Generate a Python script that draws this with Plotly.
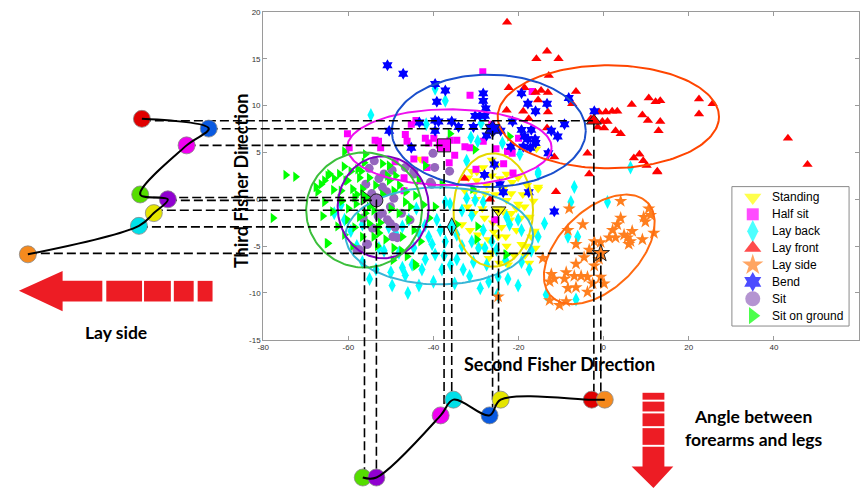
import numpy as np
import plotly.graph_objects as go

W, H = 860, 495
# plot box of the main axes in pixels (left, right, top, bottom)
L, R, T, B = 259, 859, 8, 342
X_RANGE = [-80, 60]
Y_RANGE = [-15, 20]

x_ticks = [-80, -60, -40, -20, 0, 20, 40, 60]
x_tick_labels = ["-80", "-60", "-40", "-20", "0", "20", "40", "60"]
y_ticks = [-15, -10, -5, 0, 5, 10, 15, 20]
y_tick_labels = ["-15", "-10", "-5", "0", "5", "10", "15", "20"]

classes = ["Standing", "Half sit", "Lay back", "Lay front", "Lay side", "Bend", "Sit", "Sit on ground"]
symbols = ["triangle-down", "square", "diamond-tall", "triangle-up", "star", "hexagram", "circle", "triangle-right"]
point_sizes = [9, 7, 10, 9, 10, 9, 9, 9]
point_colors = ["#FFFF00", "#FF00FF", "#00FFFF", "#FF0000", "#FF7F1F", "#0000FF", "#9467BD", "#00FF00"]
ellipse_colors = ["#E5D800", "#EE10EE", "#38B6D6", "#FF4500", "#FF6A10", "#1A4FCC", "#8000C0", "#3CBF3C"]
node_colors = ["#E5E500", "#F000F0", "#00E0E8", "#E00000", "#F58A1E", "#0A5AE0", "#9000D0", "#55DD00"]

standing_x = [-31.8, -29.8, -26.3, -24.4, -20.1, -15.4, -32.6, -30.2, -27.9, -21.7, -20.1, -18.6, -17.4, -16.2,
              -17.0, -18.2, -22.8, -21.7, -23.6, -24.8, -22.8, -26.3, -33.3, -31.4, -27.1, -20.5, -19.3, -26.3,
              -25.2, -28.3, -29.8, -22.8, -15.8, -15.4, -43.1, -28.5, -26.0, -24.0, -22.0, -19.5, -30.5, -25.5,
              -23.5, -18.0, -27.0, -21.0, -17.5, -29.0, -16.5, -24.5, -30.0, -28.0, -25.0, -23.0, -20.5, -19.0,
              -32.0, -29.5, -27.5, -25.8, -18.5, -22.5, -16.0, -31.0, -21.5]
standing_y = [2.3, 2.0, 2.5, 2.2, 2.3, 1.1, 0.9, 0.8, 0.6, 0.6, -0.5, -0.8, -1.9, -3.4,
              -4.0, -5.0, -0.1, -1.5, -1.3, -4.0, -5.0, -5.7, -2.7, -3.3, -4.3, -3.3, -4.8, 4.2,
              3.6, 3.4, 2.9, 2.7, 5.4, 1.3, 4.3, -1.0, -2.5, -3.0, -2.2, -2.0, -1.5, 0.5,
              1.2, 1.5, -6.3, -6.0, -6.8, -5.0, -0.2, -6.8, 0.0, -2.0, -1.0, -4.0, -1.0, 0.5,
              -0.8, -3.8, 1.5, -3.5, -6.0, -7.0, -5.2, 3.0, 1.8]

half_sit_x = [-60.2, -59.8, -53.7, -52.9, -52.4, -46.6, -46.2, -44.1, -45.2, -41.9, -41.1, -39.9, -38.6, -44.6,
              -42.0, -46.9, -41.5, -28.4, -31.4, -16.8, -36.1, -34.5, -32.6, -31.4, -28.3, -25.3, -22.6, -21.5,
              -20.0, -36.3, -21.3, -26.3, -46.9, -25.6, -49.0, -35.0, -30.0, -23.5]
half_sit_y = [7.0, 5.5, 6.3, 6.2, 5.5, 6.9, 6.2, 8.4, 8.0, 6.5, 6.0, 6.5, 5.8, 4.3,
              4.2, 2.3, 3.4, 13.6, 11.1, 11.5, 6.3, 6.3, 5.6, 5.5, 6.2, 5.4, 5.1, 4.9,
              6.5, 3.9, 2.8, 8.0, 0.9, -2.2, 4.0, 4.7, 3.2, 3.8]

lay_back_x = [-63.3, -60.9, -59.4, -56.7, -56.7, -52.8, -51.6, -49.7, -48.1, -47.3, -46.6, -47.3, -45.8, -44.6,
              -43.4, -42.7, -41.1, -40.3, -39.6, -39.2, -38.4, -41.9, -48.9, -61.7, -37.2, -36.1, -32.2, -30.2,
              -28.3, -33.3, -31.0, -28.3, -34.5, -37.2, -33.3, -29.4, -27.9, -34.5, -30.6, -22.8, -20.1, -19.3,
              -22.1, -26.3, -25.2, -19.3, -24.8, -20.1, -15.4, -13.9, -8.4, -6.1, -7.7, -6.9, 0.9, -13.5,
              -6.5, -15.4, -38.0, -54.7, -39.6, -41.7, -37.2, -28.8, -31.2, -29.6, -23.8, -19.7, -15.4, -32.2,
              6.3, -44.0, -42.0, -36.0, -31.5, -27.5, -23.0, -17.5, -53.5, -50.5, -46.0, -45.0, -40.0, -35.0,
              -37.5, -31.0, -27.0, -25.0, -58.0, -50.0, -43.5, -33.0, -22.5, -17.0, -29.0, -55.0]
lay_back_y = [-1.5, -2.2, -3.4, -2.7, -6.7, -5.2, -5.5, -9.2, -5.7, -7.3, -8.1, -2.9, -2.2, -5.2,
              -9.2, -7.5, -4.0, -4.8, -5.9, -2.2, -3.3, -6.4, -3.6, -0.6, -0.3, -0.5, 0.1, -0.1,
              -0.3, -1.2, -1.7, -3.3, -3.8, -4.5, -5.0, -5.2, -5.2, -6.4, -6.7, -1.9, -2.2, -3.3,
              -2.7, -4.5, -5.4, -6.7, -8.3, -9.2, -4.0, -2.6, -4.0, -4.0, -0.3, 1.3, -0.3, -10.2,
              -10.7, 2.7, -7.5, 9.0, 11.8, 8.0, 10.5, 8.1, 6.6, 6.2, 6.0, 4.8, 2.9, 4.1,
              3.4, -1.0, -2.8, -7.0, -8.2, -7.0, -6.5, -7.5, -7.5, -3.0, -10.0, -7.0, -8.8, -9.0,
              -6.0, -4.5, -8.8, -10.2, -5.0, -7.8, -3.5, -7.5, -8.5, -5.5, -9.5, -8.5]

lay_front_x = [-22.7, -13.3, -15.8, -10.6, -12.9, -22.3, -18.6, -16.0, -14.7, -13.1, -6.5, -15.4, -7.4, -22.8,
               -18.9, -13.1, -17.6, -13.3, -3.0, -1.1, 0.5, 2.0, 3.2, -0.3, 0.9, -1.4, 0.1, 2.8,
               -3.8, -11.6, -3.4, -32.7, -11.2, 12.6, -26.7, 6.6, 10.6, 12.2, 13.3, 22.4, 25.6, 22.4,
               9.1, 10.4, 13.3, 12.9, 4.0, 7.1, 8.4, 9.3, 10.1, 12.6, 43.3, 47.9]
lay_front_y = [18.9, 15.8, 15.0, 15.0, 13.2, 11.9, 11.9, 11.4, 11.6, 11.4, 11.5, 10.6, 10.2, 9.5,
               9.4, 9.3, 8.6, 7.6, 8.6, 9.3, 9.3, 9.4, 9.4, 8.3, 8.3, 7.7, 7.6, 7.3,
               4.9, 4.5, 2.7, 2.2, 0.8, 2.9, 0.0, 10.1, 10.8, 10.4, 10.5, 10.7, 10.2, 9.1,
               9.0, 8.4, 8.3, 7.3, 7.0, 4.4, 4.8, 4.1, 3.6, 3.0, 6.5, 3.7]

lay_side_x = [4.0, 9.4, 10.6, 11.0, 9.8, 11.8, 9.1, 4.0, 3.2, 2.1, 1.3, 2.8, 4.8, 5.6,
              6.7, 5.9, 6.3, -8.1, -4.9, -8.4, -6.5, -2.2, -0.7, -3.4, -4.6, -2.2, -6.5, -8.8,
              -6.9, -5.3, -3.8, -0.7, 0.1, -12.3, -11.6, -12.7, -9.2, -8.4, -6.5, -3.8, -2.6, -14.3,
              -12.7, -10.4, -8.8, -24.8, -1.1]
lay_side_y = [-0.2, -1.9, -1.0, -1.7, -2.4, -3.6, -4.3, -2.0, -2.7, -3.3, -4.1, -4.1, -3.8, -4.1,
              -3.4, -4.8, -4.5, -1.0, -2.7, -3.3, -4.8, -4.5, -4.6, -5.4, -6.2, -7.1, -6.9, -7.8,
              -8.2, -8.2, -8.3, -8.3, -9.0, -8.0, -8.5, -8.8, -8.5, -9.5, -9.4, -9.9, -9.0, -6.3,
              -10.8, -11.3, -10.9, -10.4, -6.4]

bend_x = [-50.8, -47.1, -39.6, -39.2, -39.6, -38.8, -43.3, -50.4, -39.6, -45.2, -37.2, -28.3, -28.3, -27.7,
          -30.2, -29.1, -27.9, -19.3, -17.8, -16.0, -13.3, -8.2, -2.2, -35.7, -34.1, -30.6, -26.3, -25.6,
          -21.4, -19.3, -17.0, -12.3, -9.2, -27.5, -24.2, -18.6, -17.8, -16.1, -10.8, -21.8, -18.9, -17.2,
          -16.0, -13.0, -25.7, -28.0, -23.6, -17.6, -11.6, -24.4]
bend_y = [14.3, 13.4, 12.3, 10.4, 8.4, 8.3, 8.2, 7.3, 7.3, 5.5, 11.6, 11.3, 10.5, 9.7,
          8.9, 8.9, 8.9, 11.3, 10.2, 9.4, 10.2, 10.8, 9.4, 8.3, 7.7, 7.7, 7.7, 7.4,
          8.3, 7.4, 7.4, 7.3, 8.0, 6.8, 7.3, 6.7, 6.4, 6.4, 6.7, 5.6, 5.6, 5.5,
          6.0, 4.9, 3.7, 2.6, 0.75, 0.75, -1.3, 1.6]

sit_x = [-55.9, -52.0, -49.3, -50.1, -52.0, -50.8, -50.1, -48.5, -55.5, -57.4, -54.3, -44.6, -40.4, -53.9,
         -55.1, -49.7, -51.6, -46.6, -44.6, -39.7, -40.7, -52.8, -36.2, -49.5, -55.7, -58.0, -45.5, -40.1,
         -53.0, -51.0, -47.5, -56.5, -49.0, -54.5]
sit_y = [1.6, 1.3, 0.1, -0.8, -1.5, -2.2, -2.6, -4.1, -4.8, -5.4, -3.1, 2.7, 1.6, 4.1,
         3.3, 3.1, 2.7, 3.4, 3.0, 3.4, 1.8, 2.2, 3.0, -4.0, -4.8, -5.4, -2.2, 4.9,
         -1.8, 0.8, -1.5, -2.0, -3.0, 0.6]

sit_ground_x = [-74.7, -72.4, -60.9, -56.0, -64.4, -63.3, -62.1, -59.4, -60.2, -57.4, -50.4, -48.9, -50.8, -41.9,
                -56.3, -65.6, -67.6, -66.4, -64.8, -67.2, -65.6, -77.7, -64.8, -63.7, -61.7, -60.6, -59.0, -58.2,
                -60.2, -57.4, -55.1, -56.7, -55.1, -53.6, -50.4, -49.3, -48.1, -45.8, -47.3, -44.6, -45.4, -44.2,
                -46.6, -42.3, -39.6, -43.4, -52.8, -51.2, -53.2, -49.3, -46.2, -44.2, -59.0, -60.9, -62.5, -56.7,
                -55.1, -44.3, -29.6, -30.8, -23.0, -65.0, -29.8, -22.8, -34.5, -36.1, -30.2, -22.1, -38.0, -58.5,
                -54.0, -52.0, -61.5, -57.8, -53.0, -62.0, -60.0, -58.0, -56.0, -54.5, -52.5, -50.0, -48.0, -46.5,
                -58.5, -54.0, -61.0, -63.5, -57.0, -52.0, -47.5, -43.0, -41.0, -66.0, -49.5]
sit_ground_y = [2.6, 2.4, 5.1, 4.8, 2.7, 2.2, 2.7, 3.0, 2.0, 2.3, 3.6, 2.5, 2.5, 3.6,
                3.9, 2.0, 1.3, 1.6, 2.5, 0.8, -0.3, -2.0, -4.7, -1.3, 0.9, 2.0, 1.1, -0.5,
                -2.2, -1.9, -2.6, 1.1, 2.3, 1.5, 2.0, 0.9, -1.5, -2.2, -4.0, -3.3, -0.8, 0.4,
                -0.3, -0.6, -0.8, 2.0, -3.6, -4.3, -5.0, -5.2, -6.1, -7.1, -5.0, -3.8, -2.9, -4.0,
                -0.8, -6.9, -2.9, 1.1, -5.9, -4.7, -4.3, -5.9, -2.7, 7.0, 5.3, 6.7, 1.6, 0.2,
                -1.2, 0.5, -0.2, 3.2, -3.0, 0.0, -1.0, 0.5, -1.5, -0.5, -2.5, -1.0, 1.5, 0.8,
                -3.0, -4.0, 3.5, 1.0, 3.0, 3.8, -5.5, -4.5, -2.0, -1.8, -6.5]

series_x = [standing_x, half_sit_x, lay_back_x, lay_front_x, lay_side_x, bend_x, sit_x, sit_ground_x]
series_y = [standing_y, half_sit_y, lay_back_y, lay_front_y, lay_side_y, bend_y, sit_y, sit_ground_y]

# class means (where the dashed guides meet)
center_x = [-24.7, -37.5, -35.7, -2.3, -0.67, -26.1, -53.4, -56.2]
center_y = [-1.17, 5.75, -2.95, 8.37, -5.78, 7.53, -0.12, 0.19]

# ellipses: centre plus two conjugate semi-diameters (u, v)
ell_cx = [-25.95, -36.25, -38.6, 1.1, -1.03, -27.0, -51.8, -56.3]
ell_cy = [-1.15, 5.55, -3.9, 8.8, -5.35, 7.3, -0.85, -1.15]
ell_ux = [9.35, 24.0, 22.05, 26.0, 11.22, 22.8, 10.7, 13.6]
ell_uy = [0.0, 0.0, 0.0, 0.0, 5.04, 0.0, 0.0, 0.0]
ell_vx = [0.0, 0.0, 0.0, 0.0, -6.6, 0.0, 0.0, 0.0]
ell_vy = [6.05, 4.05, 5.19, 5.5, 2.96, 6.0, 5.45, 6.15]

# side diagram: ordering along the third Fisher direction
left_order = ["Lay front", "Bend", "Half sit", "Sit on ground", "Sit", "Standing", "Lay back", "Lay side"]
left_x = [-108.5, -92.8, -98.0, -108.9, -102.4, -105.7, -109.2, -135.3]
left_y = [8.58, 7.54, 5.75, 0.51, -0.01, -1.48, -2.84, -5.88]

# bottom diagram: ordering along the second Fisher direction
bottom_order = ["Sit on ground", "Sit", "Half sit", "Lay back", "Bend", "Standing", "Lay front", "Lay side"]
bottom_x = [-56.6, -53.4, -38.3, -35.3, -26.8, -24.2, -2.8, 0.26]
bottom_y = [-29.7, -29.7, -23.07, -21.39, -23.07, -21.39, -21.39, -21.39]

# ---------------------------------------------------------------------------
sx = (X_RANGE[1] - X_RANGE[0]) / (R - L)
sy = (Y_RANGE[1] - Y_RANGE[0]) / (B - T)
X2_RANGE = [X_RANGE[0] - L * sx, X_RANGE[1] + (W - R) * sx]
Y2_RANGE = [Y_RANGE[0] - (H - B) * sy, Y_RANGE[1] + T * sy]


def px(x):
    return x / W


def py(y):
    return 1 - y / H


def ox(p):  # pixel -> overlay x
    return X2_RANGE[0] + p * sx


def oy(p):  # pixel -> overlay y
    return Y2_RANGE[1] - p * sy


fig = go.Figure()

# scatter clouds
for i, name in enumerate(classes):
    fig.add_trace(go.Scatter(
        x=series_x[i], y=series_y[i], mode="markers", name=name, showlegend=False,
        marker=dict(symbol=symbols[i], size=point_sizes[i], color=point_colors[i],
                    line=dict(width=0)),
        xaxis="x", yaxis="y", hoverinfo="skip"))

# ellipses
t = np.linspace(0, 2 * np.pi, 181)
for i, name in enumerate(classes):
    ex = ell_cx[i] + ell_ux[i] * np.cos(t) + ell_vx[i] * np.sin(t)
    ey = ell_cy[i] + ell_uy[i] * np.cos(t) + ell_vy[i] * np.sin(t)
    fig.add_trace(go.Scatter(x=ex, y=ey, mode="lines", showlegend=False,
                             line=dict(color=ellipse_colors[i], width=2),
                             xaxis="x", yaxis="y", hoverinfo="skip"))

# class means
fig.add_trace(go.Scatter(
    x=center_x, y=center_y, mode="markers", showlegend=False,
    marker=dict(symbol=symbols, size=13, color=point_colors, line=dict(color="#222", width=1)),
    xaxis="x", yaxis="y", hoverinfo="skip"))

# dashed guides (overlay axes share the main data scale)
gx, gy = [], []
for name in classes:
    i = classes.index(name)
    li = left_order.index(name)
    bi = bottom_order.index(name)
    gx += [left_x[li], center_x[i], center_x[i], None]
    gy += [center_y[i], center_y[i], bottom_y[bi], None]
fig.add_trace(go.Scatter(x=gx, y=gy, mode="lines", showlegend=False,
                         line=dict(color="black", width=1.6, dash="9px,4px"),
                         xaxis="x2", yaxis="y2", hoverinfo="skip"))

# diagram nodes
left_cols = [node_colors[classes.index(n)] for n in left_order]
bottom_cols = [node_colors[classes.index(n)] for n in bottom_order]
fig.add_trace(go.Scatter(x=left_x, y=left_y, mode="markers", showlegend=False,
                         marker=dict(size=17, color=left_cols, line=dict(color="#888", width=0.8)),
                         xaxis="x2", yaxis="y2", hoverinfo="skip"))
fig.add_trace(go.Scatter(x=bottom_x, y=bottom_y, mode="markers", showlegend=False,
                         marker=dict(size=17, color=bottom_cols, line=dict(color="#888", width=0.8)),
                         xaxis="x2", yaxis="y2", hoverinfo="skip"))
# connecting curves
fig.add_trace(go.Scatter(x=left_x, y=left_y, mode="lines", showlegend=False,
                         line=dict(color="black", width=2, shape="spline", smoothing=1.0),
                         xaxis="x2", yaxis="y2", hoverinfo="skip"))
fig.add_trace(go.Scatter(x=bottom_x, y=bottom_y, mode="lines", showlegend=False,
                         line=dict(color="black", width=2, shape="spline", smoothing=1.0),
                         xaxis="x2", yaxis="y2", hoverinfo="skip"))

# legend (drawn on the overlay axes)
LEG_L, LEG_R, LEG_T, LEG_B = 731, 849, 186, 328
leg_sym_x = 752
leg_text_x = 769
leg_rows = [197, 214.2, 231.4, 248.6, 265.8, 283, 300.2, 317.4]
fig.add_trace(go.Scatter(
    x=[ox(leg_sym_x)] * len(classes), y=[oy(r) for r in leg_rows], mode="markers", showlegend=False,
    marker=dict(symbol=symbols, size=[15, 12, 16, 15, 16, 15, 15, 15], color=point_colors, line=dict(width=0)),
    xaxis="x2", yaxis="y2", hoverinfo="skip"))

# arrows
RED = "#ED1C24"


def poly(pts):
    return "M " + " L ".join(f"{px(a):.5f},{py(b):.5f}" for a, b in pts) + " Z"


shapes = [dict(type="rect", xref="paper", yref="paper", x0=px(LEG_L), x1=px(LEG_R),
               y0=py(LEG_B), y1=py(LEG_T), fillcolor="white", line=dict(color="#8a8a8a", width=1),
               layer="below")]
left_head = [(13, 292), (57, 272), (57, 282), (97, 282), (97, 303), (57, 303), (57, 313)]
shapes.append(dict(type="path", xref="paper", yref="paper", path=poly(left_head),
                   fillcolor=RED, line=dict(width=0)))
for x0, x1 in [(101, 137), (139, 166), (169, 189), (193, 208)]:
    shapes.append(dict(type="rect", xref="paper", yref="paper", x0=px(x0), x1=px(x1),
                       y0=py(303), y1=py(282), fillcolor=RED, line=dict(width=0)))
for y0, y1 in [(396, 403), (405, 415), (417, 430), (432, 449)]:
    shapes.append(dict(type="rect", xref="paper", yref="paper", x0=px(641), x1=px(663),
                       y0=py(y1), y1=py(y0), fillcolor=RED, line=dict(width=0)))
down_head = [(641, 451), (663, 451), (663, 471), (672, 471), (652, 493), (630, 471), (641, 471)]
shapes.append(dict(type="path", xref="paper", yref="paper", path=poly(down_head),
                   fillcolor=RED, line=dict(width=0)))

AXT_FONT = dict(family="Lato, Open Sans, sans-serif", size=18, color="black")
TXT_FONT = dict(family="Lato, Open Sans, sans-serif", size=17.5, color="black")
annotations = [
    dict(text="<b>Lay side</b>", x=px(111), y=py(335), xref="paper", yref="paper",
         showarrow=False, font=TXT_FONT, xanchor="center", yanchor="middle"),
    dict(text="<b>Angle between<br>forearms and legs</b>", x=px(753), y=py(432), xref="paper", yref="paper",
         showarrow=False, font=TXT_FONT, xanchor="center", yanchor="middle", align="center"),
    dict(text="<b>Second Fisher Direction</b>", x=px(557), y=py(367), xref="paper", yref="paper",
         showarrow=False, font=AXT_FONT, xanchor="center", yanchor="middle"),
    dict(text="<b>Third Fisher Direction</b>", x=px(236), y=py(180), xref="paper", yref="paper",
         showarrow=False, font=AXT_FONT, xanchor="center", yanchor="middle", textangle=-90),
]
for name, r in zip(classes, leg_rows):
    annotations.append(dict(text=name, x=px(leg_text_x), y=py(r), xref="paper", yref="paper",
                            showarrow=False, xanchor="left", yanchor="middle",
                            font=dict(family="Liberation Sans, Arial", size=12, color="black")))

axis_common = dict(showgrid=False, zeroline=False, showline=True, mirror="ticks", ticks="inside",
                   ticklen=4, linecolor="#9a9a9a", tickcolor="#9a9a9a", linewidth=1,
                   tickfont=dict(family="Liberation Sans, Arial", size=8, color="#333"))

fig.update_layout(
    width=W, height=H, margin=dict(l=0, r=0, t=0, b=0),
    paper_bgcolor="white", plot_bgcolor="rgba(0,0,0,0)",
    xaxis=dict(domain=[px(L), px(R)], range=X_RANGE, tickvals=x_ticks, ticktext=x_tick_labels,
               anchor="y", **axis_common),
    yaxis=dict(domain=[py(B), py(T)], range=Y_RANGE, tickvals=y_ticks, ticktext=y_tick_labels,
               anchor="x", **axis_common),
    xaxis2=dict(domain=[0, 1], range=X2_RANGE, visible=False, anchor="y2", fixedrange=True),
    yaxis2=dict(domain=[0, 1], range=Y2_RANGE, visible=False, anchor="x2", fixedrange=True),
    shapes=shapes, annotations=annotations, showlegend=False,
)

fig.write_html("out.html", config={"displayModeBar": False},
               post_script="document.body.style.margin='0';document.body.style.padding='0';"
                           "document.documentElement.style.overflow='hidden';")
